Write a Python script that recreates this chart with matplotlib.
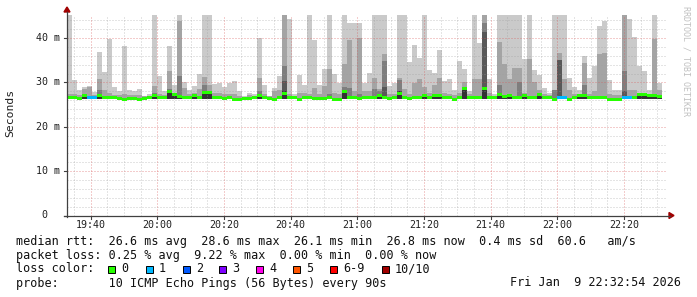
import numpy as np
import matplotlib
matplotlib.use("Agg")
import matplotlib.pyplot as plt
from matplotlib.patches import Rectangle, Polygon
from matplotlib.lines import Line2D
from matplotlib.transforms import blended_transform_factory

# ---------------- data (ms), one value per 90 s sample ----------------
start_min = 32.9      # 19:32:54, minutes after 19:00
step_min = 1.5        # 90 s
span_min = 180.0

ping10_ms = [46, 30.6, 28.2, 29.0, 29.1, 27.8, 36.9, 32.4, 39.7, 29.0,
             28.0, 38.3, 28.2, 28.0, 28.6, 27.0, 27.3, 46, 31.4, 28.0,
             38.3, 29.5, 46, 30.1, 28.4, 29.3, 32.0, 46, 46, 29.7,
             29.8, 29.0, 29.8, 30.3, 28.0, 26.9, 27.7, 27.3, 40.0, 29.5,
             27.0, 28.8, 31.4, 46, 44.2, 27.3, 31.6, 29.5, 46, 39.5,
             29.5, 33.0, 46, 31.8, 29.8, 46, 43.3, 43.3, 43.3, 29.8,
             32.2, 46, 46, 46, 29.3, 29.8, 46, 46, 34.5, 38.4,
             35.6, 46, 32.7, 32.2, 37.3, 30.4, 30.7, 28.4, 34.8, 33.0,
             28.0, 46, 39.0, 46, 30.7, 27.3, 46, 46, 46, 46,
             46, 35.2, 46, 32.8, 31.7, 28.7, 27.6, 46, 46, 46,
             31.0, 29.0, 28.4, 35.9, 31.0, 33.6, 42.7, 43.9, 30.6, 28.2,
             28.3, 46, 44.3, 40.3, 33.6, 32.6, 28.2, 46, 29.9]

ping9_ms = [27.3, 27.3, 27.2, 28.5, 28.9, 27.2, 30.7, 28.2, 27.7, 27.2,
            27.2, 27.5, 27.2, 27.2, 27.2, 26.9, 27.0, 29.2, 27.4, 27.2,
            32.5, 27.6, 43.8, 28.8, 27.3, 27.6, 28.5, 31.3, 29.5, 27.6,
            27.7, 27.3, 27.5, 27.4, 27.0, 26.8, 27.1, 27.0, 31.0, 27.4,
            26.9, 28.0, 28.4, 46, 27.3, 27.0, 27.6, 27.7, 27.3, 28.8,
            27.4, 29.3, 33.0, 27.6, 27.3, 34.1, 39.5, 28.0, 40.1, 28.0,
            28.0, 30.9, 28.5, 36.4, 27.3, 27.5, 30.9, 28.5, 27.5, 29.8,
            30.8, 29.0, 27.6, 29.5, 31.0, 27.6, 27.4, 27.1, 27.6, 30.1,
            27.3, 30.7, 30.7, 46, 27.6, 26.9, 39.2, 34.1, 30.8, 33.3,
            33.3, 27.6, 35.3, 30.0, 28.4, 27.4, 27.1, 28.3, 36.6, 30.7,
            28.2, 27.4, 27.2, 34.3, 27.5, 28.0, 36.4, 36.6, 27.5, 27.1,
            27.1, 46, 28.4, 28.4, 27.6, 27.6, 27.1, 39.7, 28.4]

ping8_ms = [26.9, 26.9, 26.8, 27.4, 26.9, 26.9, 28.2, 27.0, 27.0, 26.9,
            26.8, 26.6, 26.8, 26.7, 26.5, 26.8, 26.9, 27.7, 26.9, 26.9,
            28.6, 27.5, 31.4, 27.0, 26.9, 27.3, 26.9, 29.5, 28.0, 26.9,
            27.0, 26.8, 26.9, 26.6, 26.5, 26.7, 26.8, 26.9, 28.0, 27.0,
            26.8, 26.5, 26.9, 33.8, 27.0, 26.9, 26.6, 26.9, 26.9, 26.8,
            26.7, 26.8, 27.5, 26.6, 26.6, 29.0, 28.8, 26.9, 27.5, 27.0,
            26.9, 28.5, 28.0, 34.8, 26.8, 26.9, 30.6, 26.9, 26.8, 26.9,
            27.0, 27.3, 27.0, 27.3, 27.3, 26.9, 26.9, 26.6, 26.9, 28.8,
            27.0, 27.0, 26.9, 43.3, 26.9, 27.0, 29.5, 27.2, 27.3, 27.0,
            30.0, 27.3, 27.0, 26.9, 27.5, 27.0, 26.9, 28.2, 35.1, 26.9,
            26.6, 27.0, 27.3, 29.5, 27.0, 26.9, 27.0, 26.9, 26.6, 26.6,
            26.6, 32.6, 26.9, 26.9, 27.5, 27.5, 27.3, 27.3, 27.1]

ping7_ms = [26.5, 26.5, 26.4, 27.0, 26.5, 26.5, 27.0, 26.5, 26.6, 26.5,
            26.4, 26.2, 26.4, 26.3, 26.1, 26.4, 26.5, 27.0, 26.5, 26.5,
            28.0, 27.2, 26.9, 26.6, 26.5, 27.0, 26.5, 27.7, 27.7, 26.5,
            26.5, 26.4, 26.5, 26.2, 26.1, 26.3, 26.4, 26.5, 27.0, 26.6,
            26.4, 26.1, 26.5, 30.3, 26.6, 26.5, 26.2, 26.5, 26.5, 26.4,
            26.3, 26.4, 26.5, 26.2, 26.2, 28.0, 26.5, 26.5, 26.3, 26.6,
            26.5, 26.6, 27.0, 29.0, 26.4, 26.5, 27.6, 26.5, 26.4, 26.5,
            26.6, 27.0, 26.6, 27.0, 27.0, 26.5, 26.5, 26.2, 26.5, 28.6,
            26.6, 26.6, 26.5, 41.4, 26.5, 26.6, 27.2, 26.8, 27.0, 26.6,
            26.6, 27.0, 26.6, 26.5, 27.2, 26.6, 26.5, 26.2, 35.1, 26.5,
            26.2, 26.6, 27.0, 27.0, 26.6, 26.5, 26.6, 26.5, 26.2, 26.2,
            26.2, 28.0, 26.5, 26.5, 27.2, 27.2, 27.0, 27.0, 26.8]

ping6_ms = [26.5, 26.5, 26.4, 27.0, 26.5, 26.5, 27.0, 26.5, 26.6, 26.5,
            26.4, 26.2, 26.4, 26.3, 26.1, 26.4, 26.5, 27.4, 26.5, 26.5,
            28.4, 27.2, 26.9, 26.6, 26.5, 27.0, 26.5, 28.1, 27.7, 26.5,
            26.5, 26.4, 26.5, 26.2, 26.1, 26.3, 26.4, 26.5, 27.4, 26.6,
            26.4, 26.1, 26.5, 28.0, 26.6, 26.5, 26.2, 26.5, 26.5, 26.4,
            26.3, 26.4, 26.5, 26.2, 26.2, 28.4, 26.5, 26.5, 26.3, 26.6,
            26.5, 26.6, 27.0, 26.5, 26.4, 26.5, 28.0, 26.5, 26.4, 26.5,
            26.6, 27.0, 26.6, 27.0, 27.0, 26.5, 26.5, 26.2, 26.5, 29.0,
            26.6, 26.6, 26.5, 29.0, 26.5, 26.6, 27.6, 26.8, 27.0, 26.6,
            26.6, 27.0, 26.6, 26.5, 27.6, 26.6, 26.5, 26.2, 26.5, 26.5,
            26.2, 26.6, 27.0, 27.0, 26.6, 26.5, 26.6, 26.5, 26.2, 26.2,
            26.2, 26.5, 26.5, 26.5, 27.6, 27.6, 27.0, 27.0, 26.8]

median_ms = [26.5, 26.5, 26.4, 27.0, 26.5, 26.5, 27.0, 26.5, 26.6, 26.5,
             26.4, 26.2, 26.4, 26.3, 26.1, 26.4, 26.5, 27.0, 26.5, 26.5,
             28.0, 27.2, 26.9, 26.6, 26.5, 27.0, 26.5, 27.7, 27.7, 26.5,
             26.5, 26.4, 26.5, 26.2, 26.1, 26.3, 26.4, 26.5, 27.0, 26.6,
             26.4, 26.1, 26.5, 27.6, 26.6, 26.5, 26.2, 26.5, 26.5, 26.4,
             26.3, 26.4, 26.5, 26.2, 26.2, 28.0, 26.5, 26.5, 26.3, 26.6,
             26.5, 26.6, 27.0, 26.5, 26.4, 26.5, 27.6, 26.5, 26.4, 26.5,
             26.6, 27.0, 26.6, 27.0, 27.0, 26.5, 26.5, 26.2, 26.5, 28.6,
             26.6, 26.6, 26.5, 28.6, 26.5, 26.6, 27.2, 26.8, 27.0, 26.6,
             26.6, 27.0, 26.6, 26.5, 27.2, 26.6, 26.5, 26.2, 26.5, 26.5,
             26.2, 26.6, 27.0, 27.0, 26.6, 26.5, 26.6, 26.5, 26.2, 26.2,
             26.2, 26.5, 26.5, 26.5, 27.2, 27.2, 27.0, 27.0, 26.8]

low_ms = [26.2, 26.2, 26.1, 26.3, 26.2, 26.2, 26.3, 26.2, 26.2, 26.2,
          26.1, 25.9, 26.1, 26.0, 25.8, 26.1, 26.2, 26.2, 26.2, 26.2,
          26.2, 26.3, 26.3, 26.3, 26.2, 26.3, 26.2, 26.3, 26.3, 26.2,
          26.2, 26.1, 26.2, 25.9, 25.8, 26.0, 26.1, 26.2, 26.2, 26.3,
          26.1, 25.8, 26.2, 26.2, 26.3, 26.2, 25.9, 26.2, 26.2, 26.1,
          26.0, 26.1, 26.2, 25.9, 25.9, 26.2, 26.2, 26.2, 26.0, 26.3,
          26.2, 26.3, 26.3, 26.2, 26.1, 26.2, 26.2, 26.2, 26.1, 26.2,
          26.3, 26.3, 26.3, 26.3, 26.3, 26.2, 26.2, 25.9, 26.2, 26.2,
          26.3, 26.3, 26.2, 26.2, 26.2, 26.3, 26.3, 26.3, 26.3, 26.3,
          26.3, 26.3, 26.3, 26.2, 26.3, 26.3, 26.2, 25.9, 26.2, 26.2,
          25.9, 26.3, 26.3, 26.3, 26.3, 26.2, 26.3, 26.2, 25.9, 25.9,
          25.9, 26.2, 26.2, 26.2, 26.3, 26.3, 26.3, 26.3, 26.3]

loss_count = [0, 0, 0, 0, 1, 1, 0, 0, 0, 0,
              0, 0, 0, 0, 0, 0, 0, 0, 0, 0,
              0, 0, 0, 0, 0, 0, 0, 0, 0, 0,
              0, 0, 0, 0, 0, 0, 0, 0, 0, 0,
              0, 0, 0, 0, 0, 0, 0, 0, 0, 0,
              0, 0, 0, 0, 0, 0, 0, 0, 0, 0,
              0, 0, 0, 0, 0, 0, 0, 0, 0, 0,
              0, 0, 0, 0, 0, 0, 0, 0, 0, 0,
              0, 0, 0, 0, 0, 0, 0, 0, 0, 0,
              0, 0, 0, 0, 0, 0, 0, 0, 1, 1,
              0, 0, 0, 0, 0, 0, 0, 0, 0, 0,
              0, 1, 1, 0, 0, 0, 0, 0, 0]

y_ticks = [0, 10, 20, 30, 40]
y_tick_labels = ["0  ", "10 m", "20 m", "30 m", "40 m"]
x_ticks_min = [40, 60, 80, 100, 120, 140, 160, 180, 200]
x_tick_labels = ["19:40", "20:00", "20:20", "20:40", "21:00",
                 "21:20", "21:40", "22:00", "22:20"]

loss_legend = ["0", "1", "2", "3", "4", "5", "6-9", "10/10"]
loss_colors = ["#26ff00", "#00b8ff", "#0059ff", "#7e00ff",
               "#ff00ea", "#ff5600", "#ff0000", "#a10000"]

stats_line1 = ("median rtt:  26.6 ms avg  28.6 ms max  26.1 ms min  "
               "26.8 ms now  0.4 ms sd  60.6   am/s")
stats_line2 = "packet loss: 0.25 % avg  9.22 % max  0.00 % min  0.00 % now"
probe_line = "probe:       10 ICMP Echo Pings (56 Bytes) every 90s"
date_text = "Fri Jan  9 22:32:54 2026"

# ---------------- figure ----------------
W, H = 697, 297
fig = plt.figure(figsize=(W / 100, H / 100), dpi=100)
fig.patch.set_facecolor("white")


def fx(px):
    return px / W


def fy(py):
    return 1 - py / H


X0, X1 = 67, 667
Y0, Y1 = 215.5, 15
ax = fig.add_axes([fx(X0), fy(Y0), (X1 - X0) / W, (Y0 - Y1) / H])
ax.set_xlim(start_min, start_min + span_min)
ax.set_ylim(0, (Y0 - Y1) / 4.435)
ax.axis("off")

n = len(median_ms)
x_left = start_min + step_min * np.arange(n)
low = np.array(low_ms)

smoke = [(ping10_ms, "#cacaca"), (ping9_ms, "#a4a4a4"),
         (ping8_ms, "#7e7e7e"), (ping7_ms, "#585858"),
         (ping6_ms, "#323232")]
for z, (vals, col) in enumerate(smoke):
    v = np.array(vals, dtype=float)
    ax.bar(x_left, v - low, bottom=low, width=step_min, align="edge",
           color=col, linewidth=0, zorder=2 + z * 0.1)

# median band (area of +-1.5 px around the median), coloured by loss
sw = 1.5 / 4.435
med = np.array(median_ms)
cols = [loss_colors[min(c, 6) if c < 10 else 7] for c in loss_count]
ax.bar(x_left, 2 * sw, bottom=med - sw, width=step_min, align="edge",
       color=cols, linewidth=0, zorder=4)

# grid (on top of smoke, as rrdtool draws it)
minor_col = (0.62, 0.62, 0.62, 0.55)
major_col = (0.85, 0.35, 0.35, 0.6)
for v in np.arange(0, 46, 2):
    if v % 10 == 0:
        continue
    ax.axhline(v, color=minor_col, lw=0.72, ls=(0, (1, 2)), zorder=3)
for t in np.arange(35, 215, 5):
    if t % 20 == 0:
        continue
    ax.axvline(t, color=minor_col, lw=0.72, ls=(0, (1, 2)), zorder=3)
for v in y_ticks[1:]:
    ax.axhline(v, color=major_col, lw=0.72, ls=(0, (1, 2)), zorder=3)
for t in x_ticks_min:
    ax.axvline(t, color=major_col, lw=0.72, ls=(0, (1, 2)), zorder=3)

# axes lines and arrows
axis_col = "#404040"
arrow_col = "#a00000"
fig.add_artist(Line2D([fx(X0), fx(X0)], [fy(Y0 + 1), fy(12)],
                      color=axis_col, lw=0.9))
fig.add_artist(Line2D([fx(X0 - 3), fx(670)], [fy(Y0), fy(Y0)],
                      color=axis_col, lw=0.9))
fig.add_artist(Polygon([[fx(X0 - 3), fy(12)], [fx(X0 + 3), fy(12)],
                        [fx(X0), fy(7)]], closed=True, color=arrow_col))
fig.add_artist(Polygon([[fx(669), fy(Y0 - 3)], [fx(669), fy(Y0 + 3)],
                        [fx(674), fy(Y0)]], closed=True, color=arrow_col))

trx = blended_transform_factory(ax.transData, fig.transFigure)
try_ = blended_transform_factory(fig.transFigure, ax.transData)
# x ticks
for t, lab in zip(x_ticks_min, x_tick_labels):
    fig.add_artist(Line2D([t, t], [fy(Y0), fy(Y0 + 3)], transform=trx,
                          color=axis_col, lw=0.8))
    fig.text(t, fy(225), lab, transform=trx, ha="center", va="center",
             family="DejaVu Sans Mono", fontsize=7.2, color="#202020")
# y ticks
for v, lab in zip(y_ticks, y_tick_labels):
    fig.add_artist(Line2D([fx(X0 - 3), fx(X0)], [v, v], transform=try_,
                          color=axis_col, lw=0.8))
    fig.text(fx(60), v, lab, transform=try_, ha="right", va="center",
             family="DejaVu Sans Mono", fontsize=7.2, color="#202020")

fig.text(fx(10), fy(113), "Seconds", rotation=90, ha="center", va="center",
         family="DejaVu Sans Mono", fontsize=8.2, color="#202020")
fig.text(fx(686), fy(6), "RRDTOOL / TOBI OETIKER", rotation=270,
         ha="center", va="top", family="DejaVu Sans Mono", fontsize=6,
         color="#c0c0c0")

# legend / stats
mono = dict(family="DejaVu Sans Mono", fontsize=8.5, color="#101010",
            va="center", ha="left")
fig.text(fx(16), fy(241), stats_line1, **mono)
fig.text(fx(16), fy(255), stats_line2, **mono)
fig.text(fx(16), fy(269), "loss color:", **mono)
fig.text(fx(16), fy(283), probe_line, **mono)
fig.text(fx(681), fy(283), date_text, family="DejaVu Sans Mono",
         fontsize=8.5, color="#101010", va="center", ha="right")

box_x = [108, 146, 183, 219, 256, 293, 330, 382]
for bx, lab, col in zip(box_x, loss_legend, loss_colors):
    fig.add_artist(Rectangle((fx(bx), fy(273)), 7 / W, 7 / H,
                             facecolor=col, edgecolor="black", lw=0.7))
    fig.text(fx(bx + 13), fy(269), lab, **mono)

fig.savefig("out.png", dpi=100, facecolor="white")
